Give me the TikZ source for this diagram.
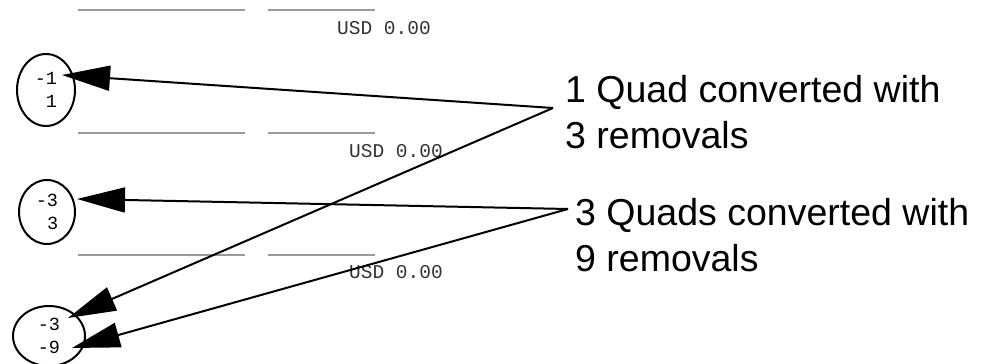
\documentclass[tikz,border=0pt]{standalone}
\usepackage{fontspec}
\setsansfont{Liberation Sans}
\setmonofont{Liberation Mono}
\usetikzlibrary{arrows.meta,shapes.geometric}

\begin{document}
\begin{tikzpicture}[x=1pt,y=1pt,
  qty/.style={draw,line width=2pt,ellipse,inner sep=0pt,align=right,
    font=\ttfamily\fontsize{18.5}{23}\selectfont},
  amt/.style={font=\ttfamily\fontsize{19.5}{22}\selectfont,text=black!80,inner sep=0pt},
  note/.style={font=\sffamily\fontsize{37.5}{46}\selectfont,align=left,anchor=west,inner sep=0pt},
  conv/.style={line width=2pt,-{Triangle[length=48pt,width=25pt]}}]
\useasboundingbox (0,0) rectangle (986,364);

%Leerzeilen
\foreach \y in {354,231,109}
{
	\draw[gray!80,line width=1.4pt] (78,\y) -- (245,\y);
	\draw[gray!80,line width=1.4pt] (268,\y) -- (375,\y);
}

%Betraege
\node[amt] (usd1) at (384,336) {USD 0.00};
\node[amt] (usd2) at (396,213) {USD 0.00};
\node[amt] (usd3) at (396,92) {USD 0.00};

%Mengen
\node[qty,minimum width=58pt,minimum height=72pt] (q1) at (46,274) {-1\\1};
\node[qty,minimum width=56pt,minimum height=64pt] (q2) at (47,152) {-3\\3};
\node[qty,minimum width=72pt,minimum height=60pt] (q3) at (49,28) {-3\\-9};

%Beschriftungen
\node[note] (lab1) at (565,252) {1 Quad converted with\\3 removals};
\node[note] (lab2) at (575,129) {3 Quads converted with\\9 removals};

%Pfeile
\coordinate (von1) at ([xshift=-12pt,yshift=4pt]lab1.west);
\coordinate (von2) at ([xshift=-7pt,yshift=26pt]lab2.west);
\draw[conv] (von1) -- ([shift={(16pt,15pt)}]q1.center);
\draw[conv] (von1) -- ([shift={(19pt,18pt)}]q3.center);
\draw[conv] (von2) -- ([shift={(30pt,13pt)}]q2.center);
\draw[conv] (von2) -- ([shift={(23pt,-12pt)}]q3.center);

\end{tikzpicture}
\end{document}
